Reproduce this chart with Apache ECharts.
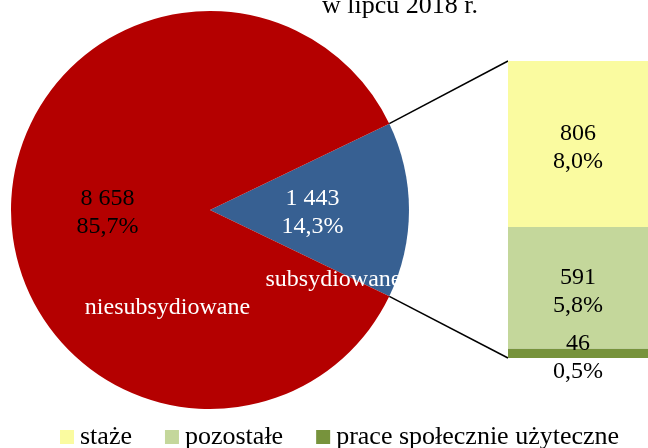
<!DOCTYPE html>
<html>
<head>
<meta charset="utf-8">
<script src="https://cdn.jsdelivr.net/npm/echarts@6/dist/echarts.min.js"></script>
<style>
  html, body { margin: 0; padding: 0; background: #fff; }
  #main { width: 648px; height: 448px; }
</style>
</head>
<body>
<div id="main"></div>
<script>
// dane
var pieNames = ['subsydiowane', 'niesubsydiowane'];
var pieValues = [1443, 8658];
var pieShares = ['14,3%', '85,7%'];

var barNames = ['prace społecznie użyteczne', 'pozostałe', 'staże'];
var barValues = [46, 591, 806];
var barShares = ['0,5%', '5,8%', '8,0%'];

var pieColors = ['#376092', '#B40000'];
var pieLabelColors = ['#fff', '#000'];
var barColors = ['#77933C', '#C4D79B', '#FAFBA0'];

var FONT = '"Liberation Serif", "DejaVu Serif", serif';

// uklad
var cx = 210, cy = 210, R = 199;
var gridLeft = 508, gridTop = 61, gridBottom = 90, H = 448;

var total = 0;
for (var i = 0; i < pieValues.length; i++) total += pieValues[i];
var halfAngle = pieValues[0] / total * 360 / 2;

function fmtNum(n) {
    return String(n).replace(/\B(?=(\d{3})+(?!\d))/g, ' ');
}

var myChart = echarts.init(document.getElementById('main'));

var pieData = [], pieNameData = [];
for (var i = 0; i < pieValues.length; i++) {
    pieData.push({
        name: pieNames[i],
        value: pieValues[i],
        itemStyle: { color: pieColors[i] },
        label: { color: pieLabelColors[i] }
    });
    pieNameData.push({ name: pieNames[i], value: pieValues[i] });
}

var barSeries = [];
var barSum = 0;
for (var k = 0; k < barValues.length; k++) {
    barSum += barValues[k];
    barSeries.push({
        name: barNames[k],
        type: 'bar',
        stack: 'all',
        barWidth: '100%',
        data: [barValues[k]],
        itemStyle: { color: barColors[k] },
        label: {
            show: true,
            position: 'inside',
            offset: k === 0 ? [0, 4] : [0, 4],
            color: '#000',
            fontFamily: FONT,
            fontSize: 24,
            lineHeight: 28,
            formatter: (function (idx) {
                return function (p) { return fmtNum(p.value) + '\n' + barShares[idx]; };
            })(k)
        },
        silent: true
    });
}

// linie laczace
var a = halfAngle * Math.PI / 180;
var pTop = [cx + R * Math.cos(a), cy - R * Math.sin(a)];
var pBot = [cx + R * Math.cos(a), cy + R * Math.sin(a)];

var option = {
    animation: false,
    backgroundColor: '#fff',
    legend: {
        data: [barNames[2], barNames[1], barNames[0]],
        left: 60,
        top: 424,
        padding: 0,
        icon: 'rect',
        itemWidth: 14,
        itemHeight: 14,
        itemGap: 33,
        textStyle: { fontFamily: FONT, fontSize: 26, color: '#000', padding: [2, 0, 0, 1] }
    },
    grid: { left: gridLeft, right: 0, top: gridTop, bottom: gridBottom },
    xAxis: { type: 'category', data: [''], show: false },
    yAxis: { type: 'value', min: 0, max: barSum, show: false },
    series: [
        {
            type: 'pie',
            center: [cx, cy],
            radius: R,
            startAngle: halfAngle,
            clockwise: true,
            silent: true,
            data: pieData,
            label: {
                show: true,
                position: 'inside',
                fontFamily: FONT,
                fontSize: 24,
                lineHeight: 28,
                formatter: function (p) { return fmtNum(p.value) + '\n' + pieShares[p.dataIndex]; }
            },
            labelLayout: { dy: 3 },
            labelLine: { show: false }
        },
        {
            type: 'pie',
            center: [cx, cy],
            radius: R,
            startAngle: halfAngle,
            clockwise: true,
            silent: true,
            data: pieNameData,
            itemStyle: { color: 'rgba(0,0,0,0)' },
            label: {
                show: true,
                position: 'inside',
                fontFamily: FONT,
                fontSize: 24,
                color: '#fff',
                formatter: '{b}'
            },
            labelLayout: function (p) {
                return p.dataIndex === 0 ? { dx: 21, dy: 70 } : { dx: 60, dy: 98 };
            },
            labelLine: { show: false }
        }
    ].concat(barSeries),
    graphic: [
        {
            type: 'text',
            left: 322,
            top: -7,
            style: { text: 'w lipcu 2018 r.', font: '26px ' + FONT, fill: '#000' }
        },
        {
            type: 'line',
            shape: { x1: pTop[0], y1: pTop[1], x2: gridLeft, y2: gridTop },
            style: { stroke: '#000', lineWidth: 1.5 },
            silent: true
        },
        {
            type: 'line',
            shape: { x1: pBot[0], y1: pBot[1], x2: gridLeft, y2: H - gridBottom },
            style: { stroke: '#000', lineWidth: 1.5 },
            silent: true
        }
    ]
};

myChart.setOption(option);
</script>
</body>
</html>
